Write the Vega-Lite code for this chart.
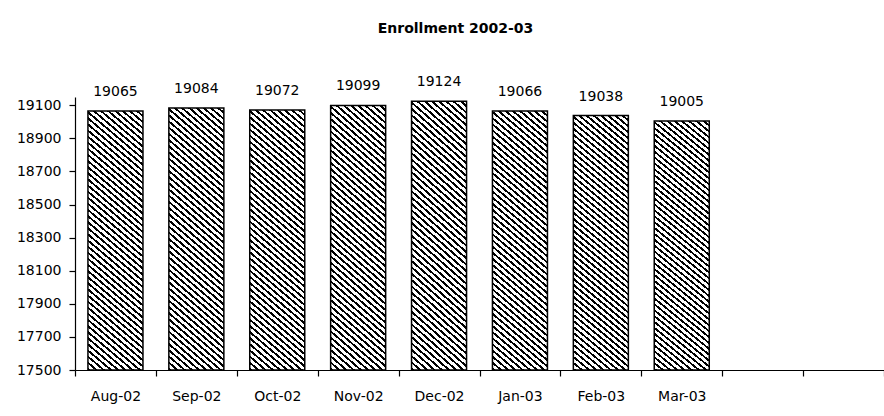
{
  "$schema": "https://vega.github.io/schema/vega-lite/v6.json",
  "autosize": "none",
  "padding": {"left": 75, "top": 97, "right": 0, "bottom": 46},
  "width": 809,
  "height": 273,
  "background": "white",
  "config": {
    "view": {"stroke": null},
    "font": "DejaVu Sans"
  },
  "title": {
    "text": "Enrollment 2002-03",
    "font": "DejaVu Sans",
    "fontSize": 14,
    "fontWeight": "bold",
    "color": "black",
    "anchor": "middle",
    "frame": "group",
    "dx": -24,
    "offset": 39
  },
  "data": {
    "values": [
      {"month": "Aug-02", "enrollment": 19065},
      {"month": "Sep-02", "enrollment": 19084},
      {"month": "Oct-02", "enrollment": 19072},
      {"month": "Nov-02", "enrollment": 19099},
      {"month": "Dec-02", "enrollment": 19124},
      {"month": "Jan-03", "enrollment": 19066},
      {"month": "Feb-03", "enrollment": 19038},
      {"month": "Mar-03", "enrollment": 19005}
    ]
  },
  "encoding": {
    "x": {
      "field": "month",
      "type": "nominal",
      "sort": null,
      "scale": {
        "domain": ["Aug-02","Sep-02","Oct-02","Nov-02","Dec-02","Jan-03","Feb-03","Mar-03","Apr-03","May-03"],
        "paddingInner": 0,
        "paddingOuter": 0
      },
      "axis": {
        "title": null,
        "labelAngle": 0,
        "labelFont": "DejaVu Sans",
        "labelFontSize": 14,
        "labelColor": "black",
        "labelPadding": 13,
        "labelExpr": "datum.value == 'Apr-03' || datum.value == 'May-03' ? '' : datum.label",
        "tickBand": "extent",
        "tickSize": 6,
        "tickColor": "black",
        "domainColor": "black",
        "domainWidth": 1.2,
        "tickWidth": 1.2,
        "grid": false,
        "zindex": 1
      }
    },
    "y": {
      "field": "enrollment",
      "type": "quantitative",
      "scale": {"domain": [17500, 19150], "nice": false, "zero": false},
      "axis": {
        "title": null,
        "values": [17500, 17700, 17900, 18100, 18300, 18500, 18700, 18900, 19100],
        "format": "d",
        "labelFont": "DejaVu Sans",
        "labelFontSize": 14,
        "labelColor": "black",
        "labelPadding": 8,
        "tickSize": 6,
        "tickColor": "black",
        "tickWidth": 1.2,
        "domainColor": "black",
        "domainWidth": 1.2,
        "grid": false,
        "zindex": 1
      }
    }
  },
  "layer": [
    {
      "mark": {
        "type": "bar",
        "width": {"band": 0.68},
        "stroke": "black",
        "strokeWidth": 1.5,
        "fill": {
          "gradient": "linear",
          "x1": 0, "y1": 1, "x2": 0.2057, "y2": -0.1429,
          "stops": [
            {"offset": 0, "color": "#000"}, {"offset": 0.008, "color": "#000"}, {"offset": 0.008, "color": "#fff"}, {"offset": 0.02, "color": "#fff"},
            {"offset": 0.02, "color": "#000"}, {"offset": 0.028, "color": "#000"}, {"offset": 0.028, "color": "#fff"}, {"offset": 0.04, "color": "#fff"},
            {"offset": 0.04, "color": "#000"}, {"offset": 0.048, "color": "#000"}, {"offset": 0.048, "color": "#fff"}, {"offset": 0.06, "color": "#fff"},
            {"offset": 0.06, "color": "#000"}, {"offset": 0.068, "color": "#000"}, {"offset": 0.068, "color": "#fff"}, {"offset": 0.08, "color": "#fff"},
            {"offset": 0.08, "color": "#000"}, {"offset": 0.088, "color": "#000"}, {"offset": 0.088, "color": "#fff"}, {"offset": 0.1, "color": "#fff"},
            {"offset": 0.1, "color": "#000"}, {"offset": 0.108, "color": "#000"}, {"offset": 0.108, "color": "#fff"}, {"offset": 0.12, "color": "#fff"},
            {"offset": 0.12, "color": "#000"}, {"offset": 0.128, "color": "#000"}, {"offset": 0.128, "color": "#fff"}, {"offset": 0.14, "color": "#fff"},
            {"offset": 0.14, "color": "#000"}, {"offset": 0.148, "color": "#000"}, {"offset": 0.148, "color": "#fff"}, {"offset": 0.16, "color": "#fff"},
            {"offset": 0.16, "color": "#000"}, {"offset": 0.168, "color": "#000"}, {"offset": 0.168, "color": "#fff"}, {"offset": 0.18, "color": "#fff"},
            {"offset": 0.18, "color": "#000"}, {"offset": 0.188, "color": "#000"}, {"offset": 0.188, "color": "#fff"}, {"offset": 0.2, "color": "#fff"},
            {"offset": 0.2, "color": "#000"}, {"offset": 0.208, "color": "#000"}, {"offset": 0.208, "color": "#fff"}, {"offset": 0.22, "color": "#fff"},
            {"offset": 0.22, "color": "#000"}, {"offset": 0.228, "color": "#000"}, {"offset": 0.228, "color": "#fff"}, {"offset": 0.24, "color": "#fff"},
            {"offset": 0.24, "color": "#000"}, {"offset": 0.248, "color": "#000"}, {"offset": 0.248, "color": "#fff"}, {"offset": 0.26, "color": "#fff"},
            {"offset": 0.26, "color": "#000"}, {"offset": 0.268, "color": "#000"}, {"offset": 0.268, "color": "#fff"}, {"offset": 0.28, "color": "#fff"},
            {"offset": 0.28, "color": "#000"}, {"offset": 0.288, "color": "#000"}, {"offset": 0.288, "color": "#fff"}, {"offset": 0.3, "color": "#fff"},
            {"offset": 0.3, "color": "#000"}, {"offset": 0.308, "color": "#000"}, {"offset": 0.308, "color": "#fff"}, {"offset": 0.32, "color": "#fff"},
            {"offset": 0.32, "color": "#000"}, {"offset": 0.328, "color": "#000"}, {"offset": 0.328, "color": "#fff"}, {"offset": 0.34, "color": "#fff"},
            {"offset": 0.34, "color": "#000"}, {"offset": 0.348, "color": "#000"}, {"offset": 0.348, "color": "#fff"}, {"offset": 0.36, "color": "#fff"},
            {"offset": 0.36, "color": "#000"}, {"offset": 0.368, "color": "#000"}, {"offset": 0.368, "color": "#fff"}, {"offset": 0.38, "color": "#fff"},
            {"offset": 0.38, "color": "#000"}, {"offset": 0.388, "color": "#000"}, {"offset": 0.388, "color": "#fff"}, {"offset": 0.4, "color": "#fff"},
            {"offset": 0.4, "color": "#000"}, {"offset": 0.408, "color": "#000"}, {"offset": 0.408, "color": "#fff"}, {"offset": 0.42, "color": "#fff"},
            {"offset": 0.42, "color": "#000"}, {"offset": 0.428, "color": "#000"}, {"offset": 0.428, "color": "#fff"}, {"offset": 0.44, "color": "#fff"},
            {"offset": 0.44, "color": "#000"}, {"offset": 0.448, "color": "#000"}, {"offset": 0.448, "color": "#fff"}, {"offset": 0.46, "color": "#fff"},
            {"offset": 0.46, "color": "#000"}, {"offset": 0.468, "color": "#000"}, {"offset": 0.468, "color": "#fff"}, {"offset": 0.48, "color": "#fff"},
            {"offset": 0.48, "color": "#000"}, {"offset": 0.488, "color": "#000"}, {"offset": 0.488, "color": "#fff"}, {"offset": 0.5, "color": "#fff"},
            {"offset": 0.5, "color": "#000"}, {"offset": 0.508, "color": "#000"}, {"offset": 0.508, "color": "#fff"}, {"offset": 0.52, "color": "#fff"},
            {"offset": 0.52, "color": "#000"}, {"offset": 0.528, "color": "#000"}, {"offset": 0.528, "color": "#fff"}, {"offset": 0.54, "color": "#fff"},
            {"offset": 0.54, "color": "#000"}, {"offset": 0.548, "color": "#000"}, {"offset": 0.548, "color": "#fff"}, {"offset": 0.56, "color": "#fff"},
            {"offset": 0.56, "color": "#000"}, {"offset": 0.568, "color": "#000"}, {"offset": 0.568, "color": "#fff"}, {"offset": 0.58, "color": "#fff"},
            {"offset": 0.58, "color": "#000"}, {"offset": 0.588, "color": "#000"}, {"offset": 0.588, "color": "#fff"}, {"offset": 0.6, "color": "#fff"},
            {"offset": 0.6, "color": "#000"}, {"offset": 0.608, "color": "#000"}, {"offset": 0.608, "color": "#fff"}, {"offset": 0.62, "color": "#fff"},
            {"offset": 0.62, "color": "#000"}, {"offset": 0.628, "color": "#000"}, {"offset": 0.628, "color": "#fff"}, {"offset": 0.64, "color": "#fff"},
            {"offset": 0.64, "color": "#000"}, {"offset": 0.648, "color": "#000"}, {"offset": 0.648, "color": "#fff"}, {"offset": 0.66, "color": "#fff"},
            {"offset": 0.66, "color": "#000"}, {"offset": 0.668, "color": "#000"}, {"offset": 0.668, "color": "#fff"}, {"offset": 0.68, "color": "#fff"},
            {"offset": 0.68, "color": "#000"}, {"offset": 0.688, "color": "#000"}, {"offset": 0.688, "color": "#fff"}, {"offset": 0.7, "color": "#fff"},
            {"offset": 0.7, "color": "#000"}, {"offset": 0.708, "color": "#000"}, {"offset": 0.708, "color": "#fff"}, {"offset": 0.72, "color": "#fff"},
            {"offset": 0.72, "color": "#000"}, {"offset": 0.728, "color": "#000"}, {"offset": 0.728, "color": "#fff"}, {"offset": 0.74, "color": "#fff"},
            {"offset": 0.74, "color": "#000"}, {"offset": 0.748, "color": "#000"}, {"offset": 0.748, "color": "#fff"}, {"offset": 0.76, "color": "#fff"},
            {"offset": 0.76, "color": "#000"}, {"offset": 0.768, "color": "#000"}, {"offset": 0.768, "color": "#fff"}, {"offset": 0.78, "color": "#fff"},
            {"offset": 0.78, "color": "#000"}, {"offset": 0.788, "color": "#000"}, {"offset": 0.788, "color": "#fff"}, {"offset": 0.8, "color": "#fff"},
            {"offset": 0.8, "color": "#000"}, {"offset": 0.808, "color": "#000"}, {"offset": 0.808, "color": "#fff"}, {"offset": 0.82, "color": "#fff"},
            {"offset": 0.82, "color": "#000"}, {"offset": 0.828, "color": "#000"}, {"offset": 0.828, "color": "#fff"}, {"offset": 0.84, "color": "#fff"},
            {"offset": 0.84, "color": "#000"}, {"offset": 0.848, "color": "#000"}, {"offset": 0.848, "color": "#fff"}, {"offset": 0.86, "color": "#fff"},
            {"offset": 0.86, "color": "#000"}, {"offset": 0.868, "color": "#000"}, {"offset": 0.868, "color": "#fff"}, {"offset": 0.88, "color": "#fff"},
            {"offset": 0.88, "color": "#000"}, {"offset": 0.888, "color": "#000"}, {"offset": 0.888, "color": "#fff"}, {"offset": 0.9, "color": "#fff"},
            {"offset": 0.9, "color": "#000"}, {"offset": 0.908, "color": "#000"}, {"offset": 0.908, "color": "#fff"}, {"offset": 0.92, "color": "#fff"},
            {"offset": 0.92, "color": "#000"}, {"offset": 0.928, "color": "#000"}, {"offset": 0.928, "color": "#fff"}, {"offset": 0.94, "color": "#fff"},
            {"offset": 0.94, "color": "#000"}, {"offset": 0.948, "color": "#000"}, {"offset": 0.948, "color": "#fff"}, {"offset": 0.96, "color": "#fff"},
            {"offset": 0.96, "color": "#000"}, {"offset": 0.968, "color": "#000"}, {"offset": 0.968, "color": "#fff"}, {"offset": 0.98, "color": "#fff"},
            {"offset": 0.98, "color": "#000"}, {"offset": 0.988, "color": "#000"}, {"offset": 0.988, "color": "#fff"}, {"offset": 1, "color": "#fff"}
          ]
        }
      },
      "encoding": {
        "y2": {"datum": 17500}
      }
    },
    {
      "mark": {
        "type": "text",
        "baseline": "middle",
        "dy": -19,
        "font": "DejaVu Sans",
        "fontSize": 14,
        "color": "black"
      },
      "encoding": {
        "text": {"field": "enrollment", "type": "quantitative", "format": "d"}
      }
    }
  ]
}
